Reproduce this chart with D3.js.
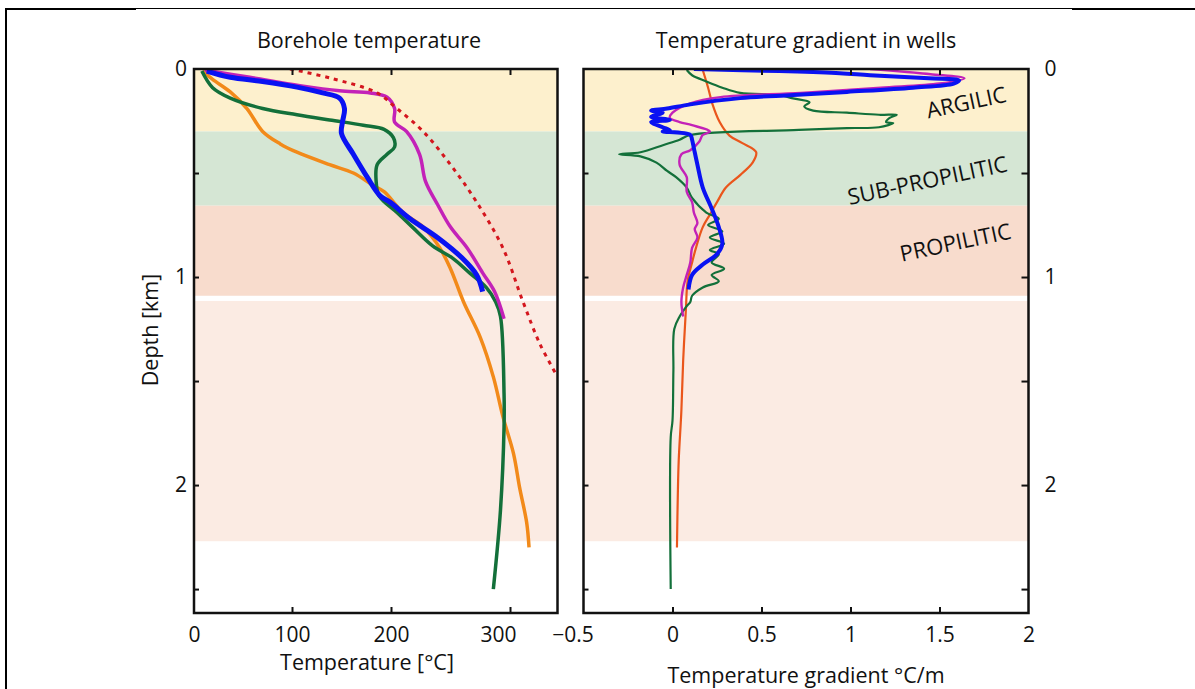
<!DOCTYPE html>
<html>
<head>
<meta charset="utf-8">
<script src="https://cdn.jsdelivr.net/npm/d3@7"></script>
<style>
  html, body { margin: 0; padding: 0; background: #fff; }
  svg { display: block; }
  text { font-family: "Open Sans", "Noto Sans", sans-serif; fill: #111; }
</style>
</head>
<body>
<svg id="chart" width="1195" height="689"></svg>
<script>
// ---- Alteration zones (depth in km) ----
const zoneNames = ["ARGILIC", "SUB-PROPILITIC", "PROPILITIC", "DEEP"];
const zoneTop = [0, 0.30, 0.657, 1.115];
const zoneBottom = [0.30, 0.657, 1.09, 2.27];
const zoneColors = ["#fdf0cd", "#d5e6d4", "#f8dccd", "#fbebe3"];

// ---- Borehole temperature profiles: [temperature °C, depth km] ----
const tempReference = [[98,0],[138,0.043],[186,0.115],[205,0.19],[227,0.30],[250,0.46],[272,0.64],[294,0.86],[311,1.12],[325,1.32],[339,1.47]];
const tempMagenta = [[11,0.005],[57,0.04],[108,0.08],[148,0.105],[179,0.115],[196,0.135],[203,0.19],[203,0.255],[213,0.30],[224,0.41],[229,0.54],[239,0.65],[250,0.76],[264,0.86],[277,0.98],[287,1.07],[295,1.20]];
const tempBlue = [[13,0.01],[37,0.04],[70,0.06],[105,0.087],[131,0.115],[148,0.14],[153,0.19],[151,0.255],[150,0.31],[162,0.41],[176,0.52],[189,0.61],[199,0.64],[216,0.72],[239,0.81],[260,0.91],[272,0.99],[277,1.07]];
const tempGreen = [[8,0.01],[19,0.09],[37,0.14],[70,0.19],[105,0.22],[138,0.245],[172,0.27],[193,0.29],[202,0.33],[203,0.375],[196,0.41],[186,0.46],[185,0.54],[188,0.61],[205,0.69],[218,0.76],[235,0.85],[252,0.91],[266,0.98],[280,1.05],[288,1.12],[292,1.19],[295,1.56],[295,1.72],[292,2.12],[286,2.50]];
const tempOrange = [[9,0.01],[19,0.05],[37,0.11],[54,0.19],[70,0.30],[88,0.36],[105,0.40],[138,0.46],[162,0.50],[182,0.56],[193,0.59],[210,0.69],[227,0.76],[241,0.86],[250,0.96],[261,1.12],[275,1.29],[286,1.48],[294,1.67],[303,1.85],[308,2.01],[314,2.18],[316,2.30]];

// ---- Temperature gradient profiles: [gradient °C/m, depth km] ----
const gradOrange = [[0.17,0.005],[0.20,0.09],[0.225,0.17],[0.265,0.255],[0.32,0.32],[0.39,0.355],[0.47,0.40],[0.45,0.45],[0.38,0.51],[0.30,0.57],[0.25,0.64],[0.21,0.70],[0.17,0.76],[0.135,0.85],[0.11,0.93],[0.085,1.02],[0.075,1.16],[0.06,1.40],[0.05,1.64],[0.035,1.88],[0.03,2.04],[0.025,2.30]];
const gradGreen = [[0.08,0.005],[0.11,0.03],[0.19,0.06],[0.28,0.09],[0.38,0.115],[0.60,0.125],[0.67,0.14],[0.77,0.16],[0.74,0.18],[0.79,0.20],[0.98,0.21],[1.16,0.22],[1.26,0.22],[1.22,0.235],[1.20,0.255],[1.24,0.26],[1.16,0.28],[0.98,0.284],[0.71,0.293],[0.10,0.317],[0.04,0.34],[-0.05,0.365],[-0.18,0.40],[-0.30,0.41],[-0.18,0.42],[-0.09,0.45],[-0.03,0.49],[0.02,0.52],[0.08,0.57],[0.11,0.62],[0.19,0.69],[0.26,0.72],[0.20,0.75],[0.28,0.78],[0.21,0.81],[0.29,0.84],[0.21,0.87],[0.26,0.89],[0.22,0.93],[0.29,0.96],[0.22,0.99],[0.26,1.02],[0.17,1.05],[0.11,1.09],[0.10,1.12],[0.08,1.14],[0.04,1.19],[0.01,1.25],[0.005,1.45],[0.0,1.69],[-0.01,1.77],[-0.01,2.50]];
const gradMagenta = [[1.11,0],[1.45,0.025],[1.64,0.045],[1.50,0.07],[1.17,0.09],[0.72,0.115],[0.27,0.135],[0.10,0.165],[0.00,0.21],[-0.015,0.235],[0.04,0.255],[0.11,0.27],[0.21,0.30],[0.17,0.317],[0.15,0.35],[0.10,0.39],[0.05,0.41],[0.04,0.46],[0.08,0.52],[0.08,0.59],[0.11,0.64],[0.12,0.69],[0.14,0.74],[0.125,0.77],[0.14,0.81],[0.11,0.86],[0.10,0.93],[0.08,0.99],[0.06,1.05],[0.05,1.12],[0.06,1.19]];
const gradBlue = [[0.12,0],[0.60,0.01],[0.94,0.02],[1.11,0.03],[1.44,0.045],[1.61,0.055],[1.58,0.07],[1.35,0.09],[0.98,0.11],[0.68,0.125],[0.38,0.14],[0.10,0.17],[-0.03,0.19],[-0.12,0.20],[-0.055,0.21],[-0.12,0.23],[-0.015,0.245],[-0.12,0.255],[-0.055,0.28],[-0.015,0.295],[-0.055,0.30],[0.10,0.317],[0.11,0.34],[0.12,0.38],[0.14,0.46],[0.17,0.57],[0.22,0.67],[0.26,0.76],[0.28,0.84],[0.25,0.89],[0.17,0.94],[0.11,0.99],[0.09,1.06]];

// ---- Tick labels ----
const tempTicks = [0, 100, 200, 300];
const gradTicks = [-0.5, 0, 0.5, 1, 1.5, 2];
const depthLabelTicks = [0, 1, 2];
const depthMinorTicks = [0.5, 1, 1.5, 2, 2.5];

const svg = d3.select("#chart");
const labelSize = "21px";
const titleSize = "21.5px";

// Outer frame of the figure
svg.append("line").attr("x1", 6).attr("x2", 6).attr("y1", 8).attr("y2", 689).attr("stroke", "#000").attr("stroke-width", 2);
svg.append("line").attr("x1", 5).attr("x2", 136).attr("y1", 9).attr("y2", 9).attr("stroke", "#000").attr("stroke-width", 2);
svg.append("line").attr("x1", 136).attr("x2", 1072).attr("y1", 8.5).attr("y2", 8.5).attr("stroke", "#000").attr("stroke-width", 1);
svg.append("line").attr("x1", 1072).attr("x2", 1195).attr("y1", 9).attr("y2", 9).attr("stroke", "#000").attr("stroke-width", 2);

const plotTop = 69, plotBottom = 613;
const y = d3.scaleLinear().domain([0, 2.615]).range([plotTop, plotBottom]);

// Left panel: temperature axis is piecewise, as drawn on the original figure
const xT = d3.scaleLinear().domain([0, 100, 200, 300]).range([194, 292, 391, 510]);
const leftX0 = 194, leftX1 = 557.5;
// Right panel: gradient axis
const xG = d3.scaleLinear().domain([-0.5, 2]).range([583.5, 1028.5]);
const rightX0 = 583.5, rightX1 = 1028.5;

function zones(g, x0, x1) {
  zoneNames.forEach((n, i) => {
    g.append("rect")
      .attr("x", x0).attr("width", x1 - x0)
      .attr("y", y(zoneTop[i])).attr("height", y(zoneBottom[i]) - y(zoneTop[i]))
      .attr("fill", zoneColors[i]);
  });
}

const left = svg.append("g");
const right = svg.append("g");
zones(left, leftX0, leftX1);
zones(right, rightX0, rightX1);

// Clip paths so curves stay inside each panel
const defs = svg.append("defs");
defs.append("clipPath").attr("id", "clipL").append("rect").attr("x", leftX0).attr("y", plotTop).attr("width", leftX1 - leftX0).attr("height", plotBottom - plotTop);
defs.append("clipPath").attr("id", "clipR").append("rect").attr("x", rightX0).attr("y", plotTop).attr("width", rightX1 - rightX0).attr("height", plotBottom - plotTop);

const lineT = d3.line().x(d => xT(d[0])).y(d => y(d[1])).curve(d3.curveCatmullRom.alpha(0.5));
const lineG = d3.line().x(d => xG(d[0])).y(d => y(d[1])).curve(d3.curveCatmullRom.alpha(0.5));

const lc = left.append("g").attr("clip-path", "url(#clipL)");
[
  { data: tempOrange, color: "#f28a1a", w: 3.5 },
  { data: tempGreen, color: "#13703a", w: 3.5 },
  { data: tempMagenta, color: "#c322b8", w: 3.5 },
  { data: tempBlue, color: "#0a12f2", w: 5 }
].forEach(s => {
  lc.append("path").datum(s.data).attr("d", lineT)
    .attr("fill", "none").attr("stroke", s.color).attr("stroke-width", s.w)
    .attr("stroke-linejoin", "round").attr("stroke-linecap", "butt");
});
lc.append("path").datum(tempReference).attr("d", lineT)
  .attr("fill", "none").attr("stroke", "#d4161e").attr("stroke-width", 3)
  .attr("stroke-dasharray", "4,5");

const rc = right.append("g").attr("clip-path", "url(#clipR)");
[
  { data: gradOrange, color: "#ea561c", w: 2.2 },
  { data: gradGreen, color: "#13703a", w: 2.2 },
  { data: gradMagenta, color: "#c322b8", w: 2.4 },
  { data: gradBlue, color: "#0a12f2", w: 4 }
].forEach(s => {
  rc.append("path").datum(s.data).attr("d", lineG)
    .attr("fill", "none").attr("stroke", s.color).attr("stroke-width", s.w)
    .attr("stroke-linejoin", "round");
});

// Axes with inward ticks
function frame(g, x0, x1) {
  g.append("rect").attr("x", x0).attr("y", plotTop).attr("width", x1 - x0).attr("height", plotBottom - plotTop)
    .attr("fill", "none").attr("stroke", "#111").attr("stroke-width", 2.5);
}

function styleAxis(a) {
  a.select(".domain").remove();
  a.selectAll(".tick line").attr("stroke", "#111").attr("stroke-width", 2);
  a.selectAll(".tick text").style("font-size", labelSize).attr("fill", "#111");
}

// Left panel axes
left.append("g").attr("transform", `translate(0,${plotBottom})`)
  .call(d3.axisBottom(xT).tickValues(tempTicks).tickSizeInner(-6).tickSizeOuter(0).tickPadding(14).tickFormat(d3.format("d")))
  .call(styleAxis)
  .call(a => a.selectAll(".tick line").filter(d => d === 0).remove())
  .call(a => a.selectAll(".tick text").filter(d => d === 300).attr("dx", -12));
left.append("g").attr("transform", `translate(0,${plotTop})`)
  .call(d3.axisTop(xT).tickValues([100, 200, 300]).tickSizeInner(-6).tickSizeOuter(0).tickFormat(""))
  .call(styleAxis);
left.append("g").attr("transform", `translate(${leftX0},0)`)
  .call(d3.axisLeft(y).tickValues(depthMinorTicks).tickSizeInner(-5).tickSizeOuter(0).tickFormat(""))
  .call(styleAxis);
left.append("g").attr("transform", `translate(${leftX0},0)`)
  .call(d3.axisLeft(y).tickValues(depthLabelTicks).tickSize(0).tickPadding(7).tickFormat(d3.format("d")))
  .call(styleAxis);
frame(left, leftX0, leftX1);

// Right panel axes
right.append("g").attr("transform", `translate(0,${plotBottom})`)
  .call(d3.axisBottom(xG).tickValues(gradTicks).tickSizeInner(-6).tickSizeOuter(0).tickPadding(14)
    .tickFormat(d => d === -0.5 ? "\u22120.5" : String(d)))
  .call(styleAxis)
  .call(a => a.selectAll(".tick line").filter(d => d === -0.5 || d === 2).remove())
  .call(a => a.selectAll(".tick text").filter(d => d === -0.5).attr("dx", -11));
right.append("g").attr("transform", `translate(0,${plotTop})`)
  .call(d3.axisTop(xG).tickValues([0, 0.5, 1, 1.5]).tickSizeInner(-6).tickSizeOuter(0).tickFormat(""))
  .call(styleAxis);
right.append("g").attr("transform", `translate(${rightX0},0)`)
  .call(d3.axisLeft(y).tickValues(depthMinorTicks).tickSizeInner(-5).tickSizeOuter(0).tickFormat(""))
  .call(styleAxis);
right.append("g").attr("transform", `translate(${rightX1},0)`)
  .call(d3.axisRight(y).tickValues(depthMinorTicks).tickSizeInner(-7).tickSizeOuter(0).tickFormat(""))
  .call(styleAxis);
right.append("g").attr("transform", `translate(${rightX1},0)`)
  .call(d3.axisRight(y).tickValues(depthLabelTicks).tickSize(0).tickPadding(16).tickFormat(d3.format("d")))
  .call(styleAxis);
frame(right, rightX0, rightX1);

// Titles
svg.append("text").attr("x", 369).attr("y", 48).attr("text-anchor", "middle").style("font-size", titleSize).text("Borehole temperature");
svg.append("text").attr("x", 806).attr("y", 48).attr("text-anchor", "middle").style("font-size", titleSize).text("Temperature gradient in wells");
svg.append("text").attr("x", 367).attr("y", 670).attr("text-anchor", "middle").style("font-size", titleSize).text("Temperature [°C]");
svg.append("text").attr("x", 806).attr("y", 683).attr("text-anchor", "middle").style("font-size", titleSize).text("Temperature gradient °C/m");
svg.append("text").attr("transform", "translate(158,330) rotate(-90)").attr("text-anchor", "middle").style("font-size", titleSize).text("Depth [km]");

// Zone labels
const zoneLabels = [
  { text: "ARGILIC", x: 968, y: 110 },
  { text: "SUB-PROPILITIC", x: 929, y: 188 },
  { text: "PROPILITIC", x: 957, y: 250 }
];
zoneLabels.forEach(z => {
  svg.append("text").attr("transform", `translate(${z.x},${z.y}) rotate(-12)`)
    .attr("text-anchor", "middle").style("font-size", "22px").text(z.text);
});
</script>
</body>
</html>
